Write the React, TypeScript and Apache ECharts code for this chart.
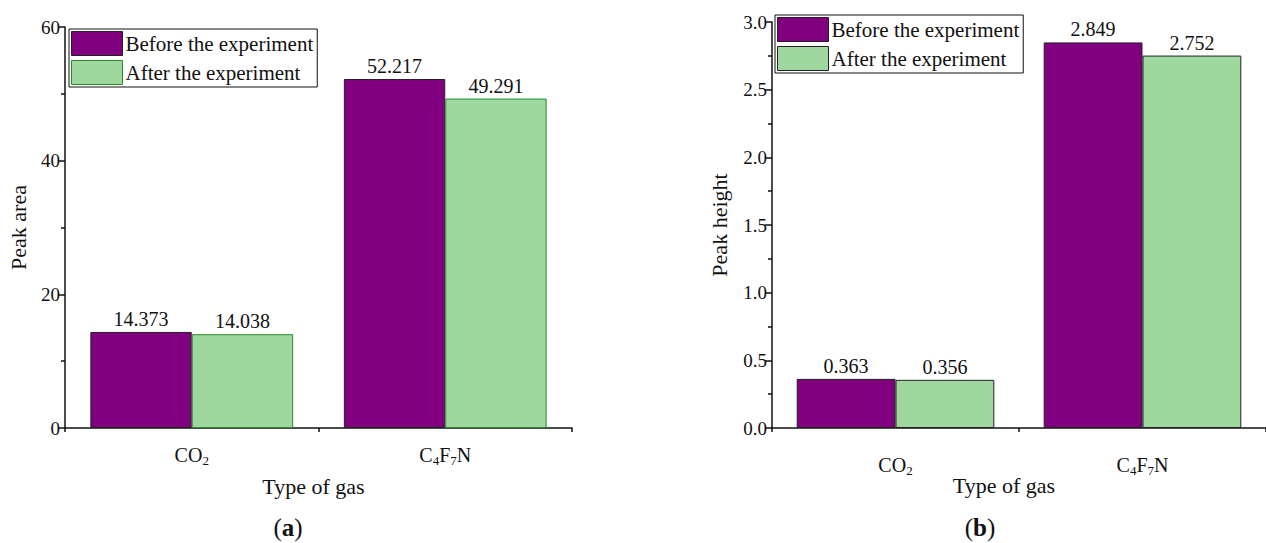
import React, { useEffect, useRef } from "react";
import * as echarts from "echarts";

// Gas types and measured chromatogram peaks
const gases = ["CO2", "C4F7N"];
const seriesNames = ["Before the experiment", "After the experiment"];
const areaBefore = [14.373, 52.217];
const areaAfter = [14.038, 49.291];
const heightBefore = [0.363, 2.849];
const heightAfter = [0.356, 2.752];

const FONT = "'Liberation Serif', 'Times New Roman', serif";
const PURPLE = "#800080";
const GREEN = "#9ed89e";

// Chemical formulas with subscript digits as rich text
const formula = (name: string) =>
  name.replace(/([A-Za-z]+)|(\d+)/g, (m, letters, digits) =>
    letters ? `{m|${letters}}` : `{s|${digits}}`
  );

// Top padding on the digit tokens pushes them below the baseline
const richFormula = {
  m: { fontSize: 20, fontFamily: FONT, color: "#111" },
  s: { fontSize: 13, fontFamily: FONT, color: "#111", padding: [11, 0, 0, 0] },
};

const axisLineStyle = { color: "#111", width: 1.5 };

export default function App() {
  const ref = useRef<HTMLDivElement>(null);

  useEffect(() => {
    if (!ref.current) return;
    const chart = echarts.init(ref.current, undefined, { renderer: "svg" });

    const grids = [
      { left: 65, top: 27, width: 507, height: 401 },
      { left: 772, top: 22, width: 500, height: 406 },
    ];

    const categoryAxis = (
      gridIndex: number,
      labelMargin: number,
      nameGap: number,
      namePad: number
    ) => ({
      type: "category",
      gridIndex,
      data: gases,
      axisLine: { lineStyle: axisLineStyle },
      axisTick: { alignWithLabel: true, length: 7, lineStyle: axisLineStyle },
      axisLabel: {
        margin: labelMargin,
        formatter: (v: string) => formula(v),
        rich: richFormula,
      },
      name: "Type of gas",
      nameLocation: "middle",
      nameGap,
      nameMoveOverlap: false,
      nameTextStyle: {
        fontSize: 22,
        fontFamily: FONT,
        color: "#111",
        padding: [0, namePad, 0, 0],
      },
    });

    // Short ticks at the category boundaries
    const boundaryAxis = (gridIndex: number) => ({
      type: "value",
      gridIndex,
      min: 0,
      max: 2,
      interval: 1,
      position: "bottom",
      axisLine: { show: false },
      axisTick: { show: true, length: 4, lineStyle: axisLineStyle },
      axisLabel: { show: false },
      splitLine: { show: false },
    });

    const valueAxis = (
      gridIndex: number,
      max: number,
      interval: number,
      name: string,
      nameGap: number,
      fmt: (v: number) => string
    ) => ({
      type: "value",
      gridIndex,
      min: 0,
      max,
      interval,
      axisLine: { show: true, lineStyle: axisLineStyle },
      axisTick: { show: true, length: 7, lineStyle: axisLineStyle },
      minorTick: { show: true, splitNumber: 2, length: 4, lineStyle: axisLineStyle },
      splitLine: { show: false },
      axisLabel: {
        fontSize: 19,
        fontFamily: FONT,
        color: "#111",
        margin: 5,
        formatter: fmt,
      },
      name,
      nameLocation: "middle",
      nameGap,
      nameTextStyle: { fontSize: 22, fontFamily: FONT, color: "#111" },
    });

    const valueLabel = (digits: number) => ({
      show: true,
      position: "top",
      distance: 3,
      fontSize: 20,
      fontFamily: FONT,
      color: "#111",
      formatter: (p: any) => Number(p.value).toFixed(digits),
    });

    const bar = (
      name: string,
      data: number[],
      idx: number,
      color: string,
      border: string,
      digits: number
    ) => ({
      type: "bar",
      name,
      data,
      xAxisIndex: idx * 2,
      yAxisIndex: idx,
      barGap: "0%",
      barCategoryGap: "20%",
      itemStyle: { color, borderColor: border, borderWidth: 1 },
      label: valueLabel(digits),
    });

    const legend = (left: number, top: number, afterBorder: string) => ({
      left,
      top,
      orient: "vertical",
      icon: "rect",
      itemWidth: 51,
      itemHeight: 24,
      itemGap: 4,
      padding: [2, 4, 2, 2],
      borderColor: "#111",
      borderWidth: 1,
      textStyle: { fontSize: 21, fontFamily: FONT, color: "#111", padding: [0, 0, 0, -2] },
      data: [
        { name: seriesNames[0], itemStyle: { color: PURPLE, borderColor: "#222", borderWidth: 1 } },
        { name: seriesNames[1], itemStyle: { color: GREEN, borderColor: afterBorder, borderWidth: 1 } },
      ],
    });

    const caption = (x: number, letter: string) => ({
      type: "text",
      x,
      y: 527,
      style: {
        text: "{n|(}{b|" + letter + "}{n|)}",
        align: "center",
        verticalAlign: "middle",
        rich: {
          n: { fontSize: 25, fontFamily: FONT, fill: "#111" },
          b: { fontSize: 25, fontFamily: FONT, fontWeight: "bold", fill: "#111" },
        },
      },
    });

    chart.setOption({
      animation: false,
      backgroundColor: "#fff",
      grid: grids,
      xAxis: [
        categoryAxis(0, 15, 47, 10),
        boundaryAxis(0),
        categoryAxis(1, 25, 46, 30),
        boundaryAxis(1),
      ],
      yAxis: [
        valueAxis(0, 60, 20, "Peak area", 36, (v) => String(v)),
        valueAxis(1, 3, 0.5, "Peak height", 42, (v) => v.toFixed(1)),
      ],
      legend: [legend(69, 29, "#2a8a2a"), legend(775, 15, "#222")],
      series: [
        bar(seriesNames[0], areaBefore, 0, PURPLE, "#222", 3),
        bar(seriesNames[1], areaAfter, 0, GREEN, "#2a8a2a", 3),
        bar(seriesNames[0], heightBefore, 1, PURPLE, "#222", 3),
        bar(seriesNames[1], heightAfter, 1, GREEN, "#222", 3),
      ],
      graphic: [caption(288, "a"), caption(980, "b")],
    });

    return () => chart.dispose();
  }, []);

  return (
    <div
      ref={ref}
      style={{ position: "fixed", left: 0, top: 0, width: 1266, height: 543 }}
    />
  );
}
